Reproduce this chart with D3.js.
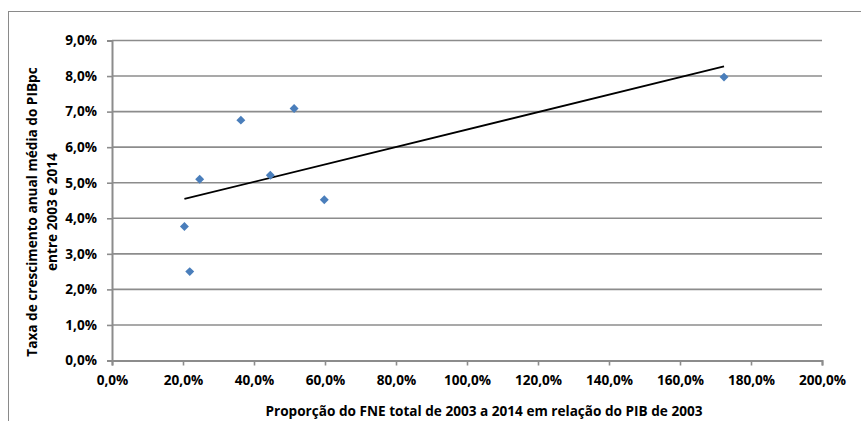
<!DOCTYPE html>
<html>
<head>
<meta charset="utf-8">
<script src="https://cdn.jsdelivr.net/npm/d3@7"></script>
<style>
  html, body { margin: 0; padding: 0; background: #fff; }
  svg { display: block; }
  text { font-family: "Open Sans", Lato, sans-serif; font-weight: bold; fill: #000; }
</style>
</head>
<body>
<svg id="chart" width="861" height="421"></svg>
<script>
// Data (percent units)
const fneShare = [20.4, 21.9, 24.7, 36.3, 44.6, 51.3, 59.8, 172.4];
const gdpGrowth = [3.77, 2.50, 5.10, 6.76, 5.21, 7.09, 4.52, 7.97];
const xTicks = [0, 20, 40, 60, 80, 100, 120, 140, 160, 180, 200];
const yTicks = [0, 1, 2, 3, 4, 5, 6, 7, 8, 9];
const xTitle = "Proporção do FNE total de 2003 a 2014 em relação do PIB de 2003";
const yTitleLines = ["Taxa de crescimento anual média do PIBpc", "entre 2003 e 2014"];

const svg = d3.select("#chart");
const plot = { left: 112, right: 822, top: 40.5, bottom: 360.5 };
const fmt = v => d3.format(".1f")(v).replace(".", ",") + "%";
const FONT = '"Open Sans", Lato, sans-serif';
const FS = "13.6px";

const x = d3.scaleLinear().domain([0, 200]).range([plot.left, plot.right]);
const y = d3.scaleLinear().domain([0, 9]).range([plot.bottom, plot.top]);

// outer chart border (cropped at right/bottom)
svg.append("rect").attr("x", 8.5).attr("y", 11.5).attr("width", 1000).attr("height", 1000)
  .attr("fill", "none").attr("stroke", "#8a8a8a").attr("stroke-width", 1);

// gridlines
svg.append("g").selectAll("line").data(yTicks.filter(d => d > 0)).join("line")
  .attr("x1", plot.left).attr("x2", plot.right)
  .attr("y1", d => y(d)).attr("y2", d => y(d))
  .attr("stroke", "#8c8c8c").attr("stroke-width", 1.6);

// Y axis
const yAxis = svg.append("g").attr("transform", `translate(${plot.left},0)`)
  .call(d3.axisLeft(y).tickValues(yTicks).tickFormat(fmt).tickSize(5).tickPadding(10));
yAxis.select(".domain").attr("stroke", "#8c8c8c").attr("stroke-width", 2);
yAxis.selectAll(".tick line").attr("stroke", "#8c8c8c").attr("stroke-width", 1.6);
yAxis.selectAll(".tick text").style("font-size", FS).style("font-family", FONT).attr("fill", "#000");

// X axis
const xAxis = svg.append("g").attr("transform", `translate(0,${plot.bottom})`)
  .call(d3.axisBottom(x).tickValues(xTicks).tickFormat(fmt).tickSize(5).tickPadding(10));
xAxis.select(".domain").attr("stroke", "#8c8c8c").attr("stroke-width", 2);
xAxis.selectAll(".tick line").attr("stroke", "#8c8c8c").attr("stroke-width", 1.6);
xAxis.selectAll(".tick text").style("font-size", FS).style("font-family", FONT).attr("fill", "#000");

// linear trendline (least squares over the data)
const mx = d3.mean(fneShare), my = d3.mean(gdpGrowth);
let sxy = 0, sxx = 0;
fneShare.forEach((v, i) => { sxy += (v - mx) * (gdpGrowth[i] - my); sxx += (v - mx) * (v - mx); });
const slope = sxy / sxx, intercept = my - slope * mx;
const xs = d3.extent(fneShare);
svg.append("line")
  .attr("x1", x(xs[0])).attr("y1", y(intercept + slope * xs[0]))
  .attr("x2", x(xs[1])).attr("y2", y(intercept + slope * xs[1]))
  .attr("stroke", "#000").attr("stroke-width", 1.8);

// points (diamonds)
const diamond = d3.symbol().type(d3.symbolSquare).size(40);
svg.append("g").selectAll("path").data(fneShare.map((v, i) => [v, gdpGrowth[i]])).join("path")
  .attr("d", diamond)
  .attr("transform", d => `translate(${x(d[0])},${y(d[1])}) rotate(45)`)
  .attr("fill", "#4a7ebb");

// axis titles
svg.append("text").attr("x", 484).attr("y", 416).attr("text-anchor", "middle")
  .style("font-size", FS).style("font-family", FONT).text(xTitle);

const yt = svg.append("text").attr("transform", "translate(37,212) rotate(-90)")
  .attr("text-anchor", "middle").style("font-size", FS).style("font-family", FONT);
yTitleLines.forEach((t, i) => {
  yt.append("tspan").attr("x", 0).attr("dy", i === 0 ? 0 : 20).text(t);
});
</script>
</body>
</html>
